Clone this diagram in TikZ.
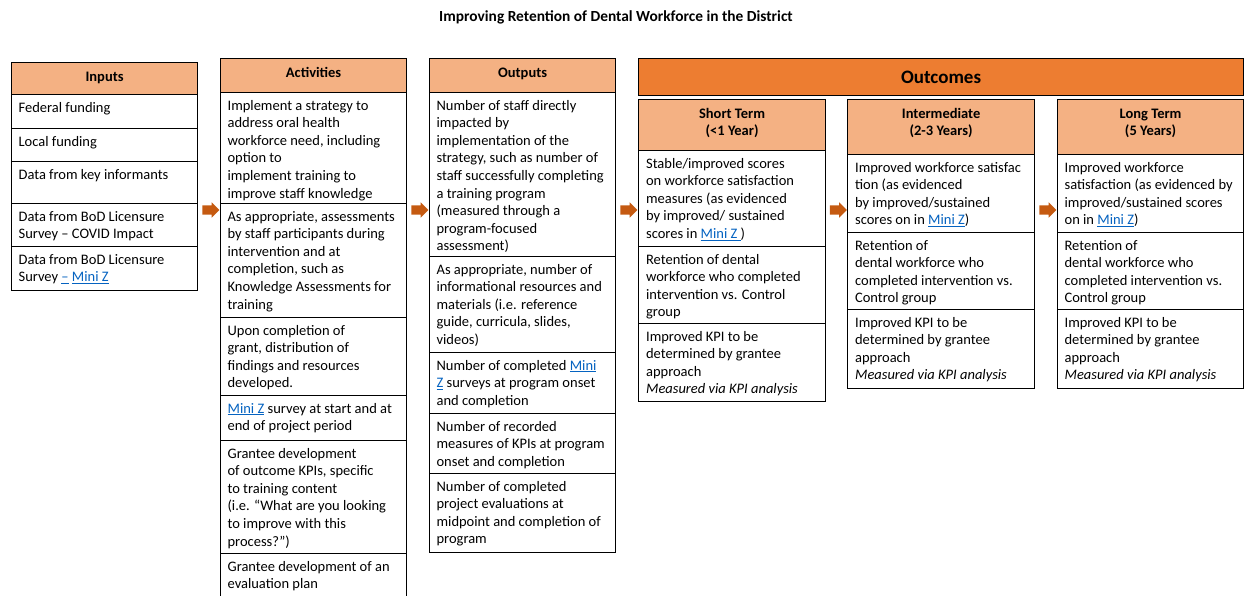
\documentclass[tikz,border=0pt]{standalone}
\usepackage{fontspec}
\setmainfont{Carlito}
\usetikzlibrary{shapes.arrows}
\definecolor{hd}{RGB}{244,177,131}
\definecolor{oc}{RGB}{237,125,49}
\definecolor{ar}{RGB}{197,90,17}
\definecolor{lk}{RGB}{5,99,193}
\newcommand{\mz}[1]{\textcolor{lk}{\underline{#1}}}
\newcommand{\cellbox}[2]{\parbox[t][#1][t]{172pt}{\raggedright\rule{0pt}{17.5pt}#2}}
\newcommand{\headbox}[2]{\parbox[t][#1][t]{172pt}{\centering\rule{0pt}{18.5pt}#2}}

\begin{document}
\begin{tikzpicture}[x=1pt,y=1pt,
cell/.style={draw=black, line width=1.2pt, fill=white, anchor=north west, inner xsep=7pt, inner ysep=0pt, font=\fontsize{14.5}{17.6}\selectfont},
head/.style={cell, fill=hd, font=\fontsize{14.5}{17.6}\selectfont\bfseries},
arr/.style={single arrow, fill=ar, single arrow head extend=3pt, minimum height=17pt, inner xsep=0pt, inner ysep=4.5pt}]
\useasboundingbox (0,0) rectangle (1245,-596);
\node (title) [font=\fontsize{15.4}{18}\selectfont\bfseries] at (616,-17) {Improving Retention of Dental Workforce in the District};
% inputs
\node (inH) [head] at (11,-62) {\headbox{32pt}{Inputs}};
\node (in1) [cell] at (11,-94) {\cellbox{34pt}{Federal funding}};
\node (in2) [cell] at (11,-128) {\cellbox{33pt}{Local funding}};
\node (in3) [cell] at (11,-161) {\cellbox{42pt}{Data from key informants}};
\node (in4) [cell] at (11,-203) {\cellbox{43pt}{Data from BoD Licensure\\Survey -- COVID Impact}};
\node (in5) [cell] at (11,-246) {\cellbox{44pt}{Data from BoD Licensure\\Survey \mz{--} \mz{Mini Z}}};
% activities
\node (actH) [head] at (220,-58) {\headbox{34pt}{Activities}};
\node (act1) [cell] at (220,-92) {\cellbox{111pt}{Implement a strategy to\\address oral health\\workforce need, including\\option to\\implement training to\\improve staff knowledge}};
\node (act2) [cell] at (220,-203) {\cellbox{114pt}{As appropriate, assessments\\by staff participants during\\intervention and at\\completion, such as\\Knowledge Assessments for\\training}};
\node (act3) [cell] at (220,-317) {\cellbox{78pt}{Upon completion of\\grant, distribution of\\findings and resources\\developed.}};
\node (act4) [cell] at (220,-395) {\cellbox{45pt}{\mz{Mini Z} survey at start and at\\end of project period}};
\node (act5) [cell] at (220,-440) {\cellbox{113pt}{Grantee development\\of outcome KPIs, specific\\to training content\\(i.e. ``What are you looking\\to improve with this\\process?'')}};
\node (act6) [cell] at (220,-553) {\cellbox{60pt}{Grantee development of an\\evaluation plan}};
% outputs
\node (outH) [head] at (429,-58) {\headbox{34pt}{Outputs}};
\node (out1) [cell] at (429,-92) {\cellbox{164pt}{Number of staff directly\\impacted by\\implementation of the\\strategy, such as number of\\staff successfully completing\\a training program\\(measured through a\\program-focused\\assessment)}};
\node (out2) [cell] at (429,-256) {\cellbox{96pt}{As appropriate, number of\\informational resources and\\materials (i.e. reference\\guide, curricula, slides,\\videos)}};
\node (out3) [cell] at (429,-352) {\cellbox{61pt}{Number of completed \mz{Mini}\\\mz{Z} surveys at program onset\\and completion}};
\node (out4) [cell] at (429,-413) {\cellbox{60pt}{Number of recorded\\measures of KPIs at program\\onset and completion}};
\node (out5) [cell] at (429,-473) {\cellbox{79pt}{Number of completed\\project evaluations at\\midpoint and completion of\\program}};
% outcomes
\node (ocH) [cell, fill=oc, minimum width=605pt, minimum height=37pt, inner sep=0pt, anchor=north west, font=\fontsize{19}{22}\selectfont\bfseries] at (638,-58) {Outcomes};
\node (stH) [head, inner xsep=7.5pt] at (638,-99) {\headbox{51pt}{Short Term\\(<1 Year)}};
\node (st1) [cell, inner xsep=7.5pt] at (638,-150) {\cellbox{96pt}{Stable/improved scores\\on workforce satisfaction\\measures (as evidenced\\by improved/ sustained\\scores in \mz{Mini Z\ })}};
\node (st2) [cell, inner xsep=7.5pt] at (638,-246) {\cellbox{77pt}{Retention of dental\\workforce who completed\\intervention vs. Control\\group}};
\node (st3) [cell, inner xsep=7.5pt] at (638,-323) {\cellbox{78pt}{Improved KPI to be\\determined by grantee\\approach\\\textit{Measured via KPI analysis}}};
\node (imH) [head, inner xsep=7.5pt] at (847,-99) {\headbox{55pt}{Intermediate\\(2-3 Years)}};
\node (im1) [cell, inner xsep=7.5pt] at (847,-154) {\cellbox{78pt}{Improved workforce satisfac\\tion (as evidenced\\by improved/sustained\\scores on in \mz{Mini Z})}};
\node (im2) [cell, inner xsep=7.5pt] at (847,-232) {\cellbox{77pt}{Retention of\\dental workforce who\\completed intervention vs.\\Control group}};
\node (im3) [cell, inner xsep=7.5pt] at (847,-309) {\cellbox{79pt}{Improved KPI to be\\determined by grantee\\approach\\\textit{Measured via KPI analysis}}};
\node (ltH) [head] at (1057,-99) {\headbox{55pt}{Long Term\\(5 Years)}};
\node (lt1) [cell] at (1057,-154) {\cellbox{78pt}{Improved workforce\\satisfaction (as evidenced by\\improved/sustained scores\\on in \mz{Mini Z})}};
\node (lt2) [cell] at (1057,-232) {\cellbox{77pt}{Retention of\\dental workforce who\\completed intervention vs.\\Control group}};
\node (lt3) [cell] at (1057,-309) {\cellbox{79pt}{Improved KPI to be\\determined by grantee\\approach\\\textit{Measured via KPI analysis}}};
% arrows between columns
\node (a1) [arr] at (208.5,-210) {};
\node (a2) [arr] at (417.5,-210) {};
\node (a3) [arr] at (626.5,-210) {};
\node (a4) [arr] at (836,-210) {};
\node (a5) [arr] at (1045.5,-210) {};
\end{tikzpicture}
\end{document}
